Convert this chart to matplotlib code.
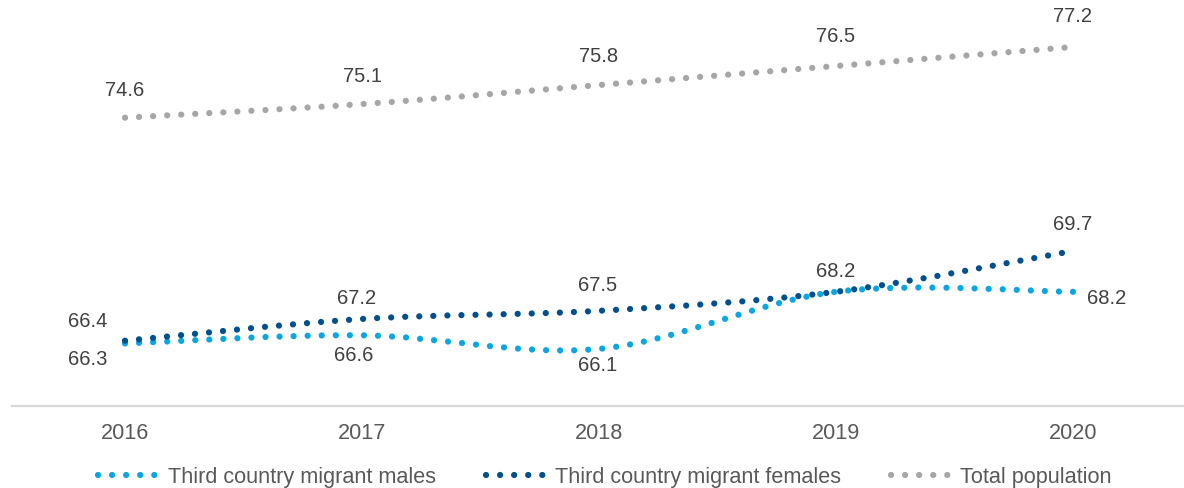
import numpy as np
import matplotlib
matplotlib.use("Agg")
from matplotlib import pyplot as plt
from matplotlib.path import Path
from matplotlib.patches import PathPatch
from matplotlib.lines import Line2D

years = ["2016", "2017", "2018", "2019", "2020"]
males = [66.3, 66.6, 66.1, 68.2, 68.2]
females = [66.4, 67.2, 67.5, 68.2, 69.7]
total = [74.6, 75.1, 75.8, 76.5, 77.2]

series_names = ["Third country migrant males", "Third country migrant females", "Total population"]
colors = ["#0aa6e4", "#00508f", "#a6a6a6"]

# label offsets in pixels (dx, dy); None = no label
males_offsets = [(-37, -16), (-8, -20), (-1, -17), None, (34, -7)]
females_offsets = [(-37, 19), (-5, 20), (-1, 25), (0, 20), (0, 26)]
total_offsets = [(0, 27), (1, 28), (0, 29), (0, 29), (0, 30)]


def smooth_path(xs, ys):
    # Excel-like smoothed line: cubic Bezier through points (Catmull-Rom)
    pts = np.column_stack([xs, ys]).astype(float)
    ext = np.vstack([pts[0], pts, pts[-1]])
    verts = [pts[0]]
    codes = [Path.MOVETO]
    for i in range(len(pts) - 1):
        p0, p1, p2, p3 = ext[i], ext[i + 1], ext[i + 2], ext[i + 3]
        c1 = p1 + (p2 - p0) / 6.0
        c2 = p2 - (p3 - p1) / 6.0
        verts += [c1, c2, p2]
        codes += [Path.CURVE4] * 3
    return Path(verts, codes)


fig = plt.figure(figsize=(11.84, 4.88), dpi=100)
W, H = 1184, 488
ax = fig.add_axes([12 / W, (H - 406) / H, (W - 12) / W, 406 / H])

x = np.arange(len(years))
lw = 4.5
dots = (0, (0.01, 2.24))

all_data = [males, females, total]
all_offsets = [males_offsets, females_offsets, total_offsets]
for vals, col, offs in zip(all_data, colors, all_offsets):
    patch = PathPatch(smooth_path(x, vals), fill=False, edgecolor=col,
                      linewidth=lw, linestyle=dots, capstyle="round")
    ax.add_patch(patch)
    for xi, v, off in zip(x, vals, offs):
        if off is None:
            continue
        ax.annotate(f"{v:.1f}", (xi, v), xytext=off, textcoords="offset pixels",
                    ha="center", va="center", fontsize=14.5, color="#404040",
                    family="Liberation Sans")

ax.set_xlim(-113 / 237, -113 / 237 + (W - 12) / 237)
ax.set_ylim(64, 64 + 406 / 27.2)
ax.set_xticks(x)
ax.set_xticklabels(years, fontsize=15.6, color="#595959", family="Liberation Sans")
ax.tick_params(axis="x", length=0, pad=12)
ax.set_yticks([])
for s in ["top", "right", "left"]:
    ax.spines[s].set_visible(False)
ax.spines["bottom"].set_color("#d9d9d9")
ax.spines["bottom"].set_linewidth(1.6)

handles = [Line2D([0], [0], color=c, linewidth=lw, linestyle=dots,
                  dash_capstyle="round") for c in colors]
fig.legend(handles, series_names, loc="center",
           bbox_to_anchor=(0.5 + 13 / W, (H - 477) / H),
           ncol=3, frameon=False, handlelength=2.65, handletextpad=0.55,
           columnspacing=2.3, prop={"family": "Liberation Sans", "size": 15.6},
           labelcolor="#595959")

fig.savefig("out.png", dpi=100)
